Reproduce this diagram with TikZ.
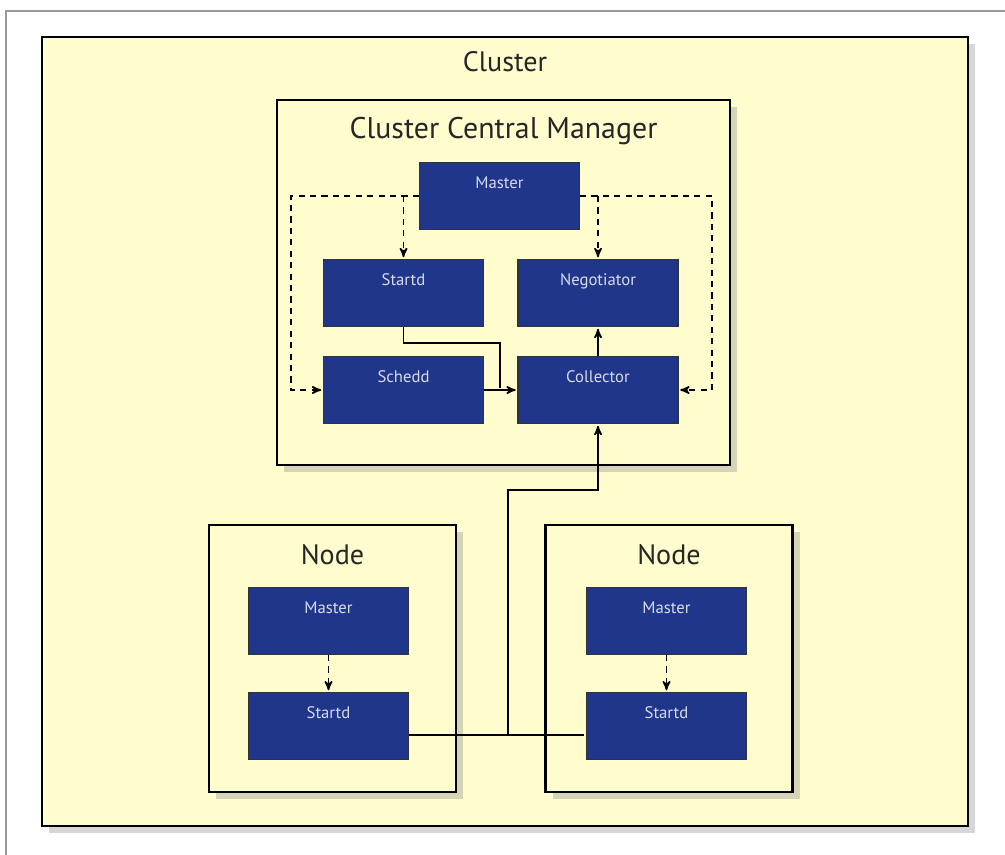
\documentclass[tikz,border=0pt]{standalone}
\usepackage{fontspec}
\setmainfont{PT Sans}
\usepackage{tikz}
\usetikzlibrary{
        arrows,
        positioning,
        shadows
    }
\definecolor{paper}{RGB}{255,252,206}
\definecolor{daemon}{RGB}{32,54,138}
\definecolor{daemontext}{RGB}{215,218,232}
\tikzset{>=stealth',auto}
\tikzset{
    frame/.style={draw=black,line width=1.6pt,fill=paper,
        drop shadow={shadow xshift=4pt,shadow yshift=-4pt,fill=black!40,opacity=0.4}},
    daemonbox/.style={draw=black!80,line width=0.6pt,fill=daemon,text=daemontext,
        minimum width=3.2cm,minimum height=1.34cm,font=\fontsize{9.5}{11}\selectfont,
        text height=0.22cm,text depth=0.52cm},
    title/.style={text=black!85,inner sep=0pt},
    flow/.style={line width=0.9pt,shorten >=1pt},
    ctrl/.style={flow,dashed,dash pattern=on 3.5pt off 3pt}
}

\begin{document}
\begin{tikzpicture}[x=0.02cm,y=-0.02cm]
    \useasboundingbox (0,0) rectangle (1005,855);
    % screenshot edge
    \draw[black!40,line width=0.8pt] (6,855) -- (6,11) -- (1005,11);

    % frames
    \node[frame,minimum width=18.52cm,minimum height=15.78cm] (cluster) at (505,431.5) {};
    \node[title,font=\fontsize{16}{18}\selectfont] (clustername) at (505,62) {Cluster};
    \node[frame,minimum width=9.06cm,minimum height=7.3cm] (manager) at (503.5,282.5) {};
    \node[title,font=\fontsize{17}{19}\selectfont] (managername) at (503.5,131) {Cluster Central Manager};
    \node[frame,minimum width=4.94cm,minimum height=5.34cm] (nodeA) at (332.5,658.5) {};
    \node[title,font=\fontsize{16}{18}\selectfont] (nodeAname) at (332.5,555) {Node};
    \node[frame,minimum width=4.94cm,minimum height=5.34cm] (nodeB) at (669,658.5) {};
    \node[title,font=\fontsize{16}{18}\selectfont] (nodeBname) at (669,555) {Node};

    % central manager daemons
    \node[daemonbox] (master)     at (499.5,196) {Master};
    \node[daemonbox] (startd)     at (403.5,293) {Startd};
    \node[daemonbox] (negotiator) at (598,293)   {Negotiator};
    \node[daemonbox] (schedd)     at (403.5,390) {Schedd};
    \node[daemonbox] (collector)  at (598,390)   {Collector};

    % execute node daemons
    \node[daemonbox] (masterA) at (328.5,621) {Master};
    \node[daemonbox] (startdA) [below=0.74cm of masterA] {Startd};
    \node[daemonbox] (masterB) at (666.5,621) {Master};
    \node[daemonbox] (startdB) [below=0.74cm of masterB] {Startd};

    \coordinate (leftrail)  at (291,196);
    \coordinate (rightrail) at (712,196);
    \coordinate (kink)  at (500,343);
    \coordinate (join)  at (500,390);
    \coordinate (trunk) at (508,735);
    \coordinate (riser) at (598,490);

    % master spawns
    \draw[ctrl,->] (master.west) -- (leftrail) |- (schedd.west);
    \draw[ctrl,->] (master.west -| startd.north) -- (startd.north);
    \draw[ctrl,->] (master.east) -- (rightrail) |- (collector.east);
    \draw[ctrl,->] (master.east -| negotiator.north) -- (negotiator.north);
    \draw[ctrl,->] (masterA) -- (startdA);
    \draw[ctrl,->] (masterB) -- (startdB);

    % updates to the collector
    \draw[flow] (startd.south) |- (kink) -- (join);
    \draw[flow,->] (schedd.east) -- (collector.west);
    \draw[flow,->] (collector.north) -- (negotiator.south);
    \draw[flow] (startdA.east |- trunk) -- (startdB.west |- trunk);
    \draw[flow,->] (trunk) |- (riser) -- (collector.south);
\end{tikzpicture}
\end{document}
